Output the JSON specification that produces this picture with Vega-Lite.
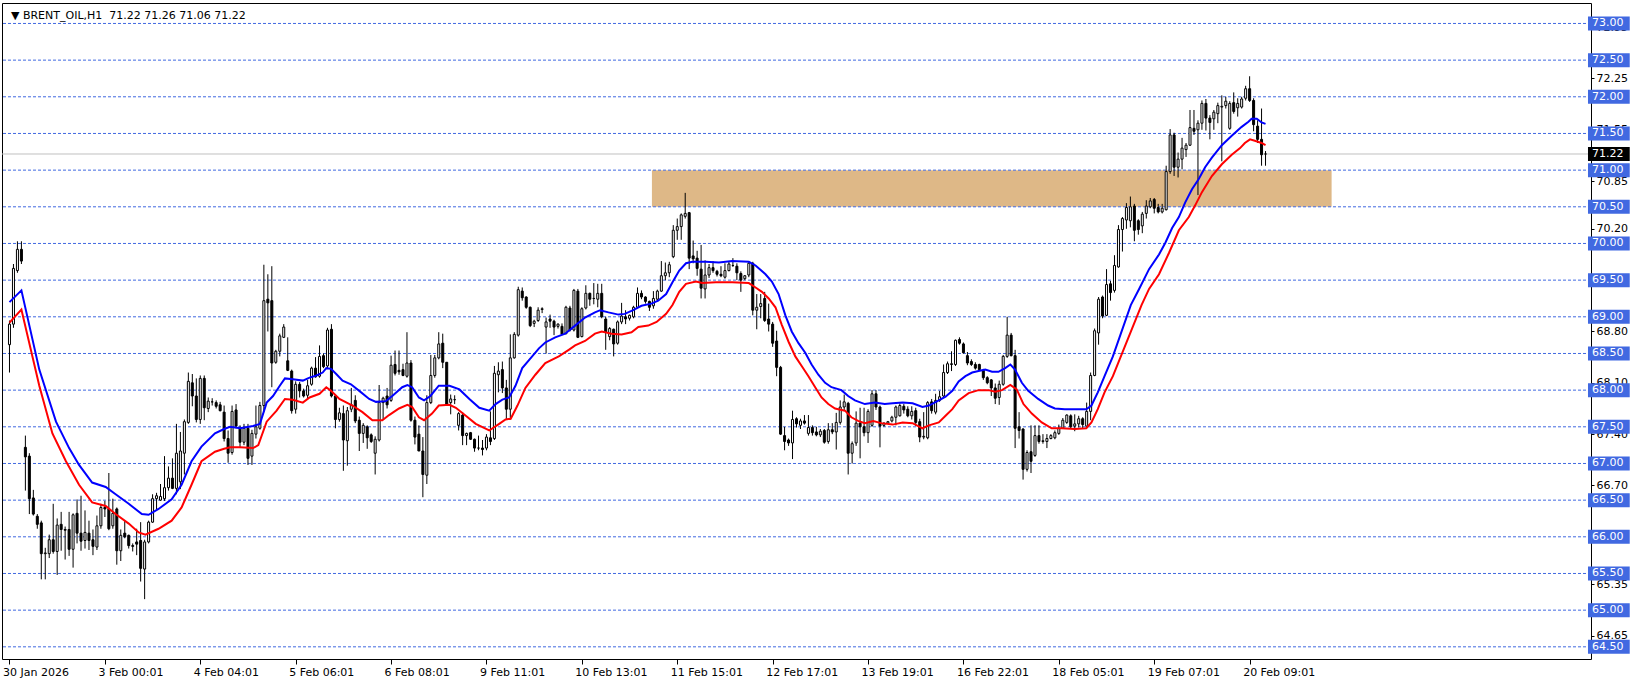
{
"$schema": "https://vega.github.io/schema/vega-lite/v6.json",
"width": 1589, "height": 656,
"autosize": {"type": "none"},
"padding": {"left": 2, "top": 3, "right": 50, "bottom": 24},
"background": "white",
"config": {"view": {"stroke": "black", "strokeWidth": 1}, "font": "DejaVu Sans",
  "axis": {"labelFont": "DejaVu Sans", "labelFontSize": 11, "labelColor": "black", "tickColor": "black", "grid": false, "domain": false}},
"datasets": {
"k": [
{"i":0,"o":68.62,"h":68.95,"l":68.24,"c":68.9},{"i":1,"o":68.9,"h":69.72,"l":68.85,"c":69.66},{"i":2,"o":69.63,"h":70.03,"l":69.6,"c":69.92},{"i":3,"o":69.92,"h":70.03,"l":69.72,"c":69.76},
{"i":4,"o":67.22,"h":67.38,"l":66.63,"c":67.09},{"i":5,"o":67.1,"h":67.14,"l":66.31,"c":66.52},{"i":6,"o":66.53,"h":66.64,"l":66.29,"c":66.31},{"i":7,"o":66.28,"h":66.31,"l":66.11,"c":66.17},
{"i":8,"o":66.19,"h":66.22,"l":65.42,"c":65.77},{"i":9,"o":65.77,"h":65.85,"l":65.42,"c":65.78},{"i":10,"o":65.77,"h":66.03,"l":65.71,"c":65.96},{"i":11,"o":65.96,"h":66.45,"l":65.77,"c":65.8},
{"i":12,"o":65.8,"h":66.25,"l":65.48,"c":66.16},{"i":13,"o":66.17,"h":66.34,"l":65.81,"c":66.1},{"i":14,"o":66.1,"h":66.14,"l":65.69,"c":66.09},{"i":15,"o":66.1,"h":66.34,"l":65.74,"c":65.83},
{"i":16,"o":65.83,"h":66.32,"l":65.58,"c":66.3},{"i":17,"o":66.32,"h":66.51,"l":65.91,"c":66.05},{"i":18,"o":66.05,"h":66.56,"l":65.81,"c":65.94},{"i":19,"o":65.95,"h":66.36,"l":65.84,"c":66.06},
{"i":20,"o":66.05,"h":66.22,"l":65.82,"c":65.95},{"i":21,"o":65.96,"h":66.1,"l":65.75,"c":65.87},{"i":22,"o":65.86,"h":66.29,"l":65.82,"c":66.15},{"i":23,"o":66.15,"h":66.45,"l":66.11,"c":66.4},
{"i":24,"o":66.4,"h":66.49,"l":66.27,"c":66.38},{"i":25,"o":66.38,"h":66.87,"l":66.09,"c":66.11},{"i":26,"o":66.15,"h":66.52,"l":66.11,"c":66.32},{"i":27,"o":66.38,"h":66.4,"l":65.62,"c":65.81},
{"i":28,"o":65.81,"h":66.1,"l":65.67,"c":66.02},{"i":29,"o":66.05,"h":66.22,"l":65.98,"c":66.0},{"i":30,"o":66.02,"h":66.03,"l":65.84,"c":65.88},{"i":31,"o":65.88,"h":65.91,"l":65.8,"c":65.87},
{"i":32,"o":65.93,"h":66.11,"l":65.75,"c":65.9},{"i":33,"o":65.95,"h":66.2,"l":65.39,"c":65.57},{"i":34,"o":65.56,"h":65.96,"l":65.15,"c":65.93},{"i":35,"o":65.93,"h":66.22,"l":65.91,"c":66.2},
{"i":36,"o":66.2,"h":66.58,"l":66.19,"c":66.52},{"i":37,"o":66.52,"h":66.6,"l":66.36,"c":66.56},{"i":38,"o":66.5,"h":66.72,"l":66.49,"c":66.55},{"i":39,"o":66.52,"h":67.1,"l":66.49,"c":66.67},
{"i":40,"o":66.67,"h":66.96,"l":66.63,"c":66.8},{"i":41,"o":66.8,"h":67.07,"l":66.65,"c":66.66},{"i":42,"o":66.66,"h":67.54,"l":66.58,"c":67.14},{"i":43,"o":66.75,"h":67.43,"l":66.65,"c":67.17},
{"i":44,"o":67.14,"h":67.6,"l":66.85,"c":67.57},{"i":45,"o":67.56,"h":68.24,"l":67.54,"c":68.12},{"i":46,"o":68.1,"h":68.22,"l":67.78,"c":67.92},{"i":47,"o":67.92,"h":68.16,"l":67.56,"c":67.6},
{"i":48,"o":67.6,"h":68.2,"l":67.54,"c":68.16},{"i":49,"o":68.16,"h":68.2,"l":67.59,"c":67.76},{"i":50,"o":67.75,"h":67.9,"l":67.7,"c":67.85},{"i":51,"o":67.84,"h":67.89,"l":67.79,"c":67.84},
{"i":52,"o":67.83,"h":67.86,"l":67.75,"c":67.78},{"i":53,"o":67.8,"h":67.84,"l":67.71,"c":67.72},{"i":54,"o":67.7,"h":67.79,"l":67.3,"c":67.34},{"i":55,"o":67.34,"h":67.45,"l":67.01,"c":67.14},
{"i":56,"o":67.15,"h":67.79,"l":67.12,"c":67.71},{"i":57,"o":67.73,"h":67.81,"l":67.48,"c":67.51},{"i":58,"o":67.48,"h":67.52,"l":67.21,"c":67.29},{"i":59,"o":67.29,"h":67.54,"l":67.25,"c":67.48},
{"i":60,"o":67.48,"h":67.54,"l":66.98,"c":67.07},{"i":61,"o":67.1,"h":67.46,"l":66.98,"c":67.41},{"i":62,"o":67.4,"h":67.79,"l":67.34,"c":67.5},{"i":63,"o":67.48,"h":67.84,"l":67.46,"c":67.79},
{"i":64,"o":67.79,"h":69.71,"l":67.7,"c":69.22},{"i":65,"o":69.24,"h":69.58,"l":68.8,"c":69.19},{"i":66,"o":69.22,"h":69.69,"l":68.04,"c":68.37},{"i":67,"o":68.38,"h":68.55,"l":68.36,"c":68.53},
{"i":68,"o":68.53,"h":68.77,"l":68.46,"c":68.74},{"i":69,"o":68.72,"h":68.9,"l":68.71,"c":68.86},{"i":70,"o":68.4,"h":68.72,"l":68.26,"c":68.27},{"i":71,"o":68.26,"h":68.28,"l":67.68,"c":67.72},
{"i":72,"o":67.74,"h":68.12,"l":67.68,"c":68.08},{"i":73,"o":68.08,"h":68.11,"l":67.9,"c":67.99},{"i":74,"o":67.99,"h":68.02,"l":67.9,"c":67.92},{"i":75,"o":67.93,"h":68.14,"l":67.89,"c":68.06},
{"i":76,"o":68.08,"h":68.32,"l":68.06,"c":68.3},{"i":77,"o":68.3,"h":68.45,"l":68.17,"c":68.18},{"i":78,"o":68.19,"h":68.61,"l":68.17,"c":68.46},{"i":79,"o":68.47,"h":68.5,"l":68.3,"c":68.32},
{"i":80,"o":68.33,"h":68.85,"l":68.3,"c":68.82},{"i":81,"o":68.83,"h":68.9,"l":67.9,"c":67.92},{"i":82,"o":67.92,"h":67.94,"l":67.48,"c":67.6},{"i":83,"o":67.6,"h":67.76,"l":67.57,"c":67.69},
{"i":84,"o":67.68,"h":67.79,"l":66.9,"c":67.32},{"i":85,"o":67.31,"h":67.77,"l":66.97,"c":67.72},{"i":86,"o":67.74,"h":68.03,"l":67.7,"c":67.8},{"i":87,"o":67.86,"h":67.93,"l":67.55,"c":67.58},
{"i":88,"o":67.59,"h":67.64,"l":67.17,"c":67.41},{"i":89,"o":67.41,"h":67.55,"l":67.28,"c":67.52},{"i":90,"o":67.5,"h":67.52,"l":67.2,"c":67.35},{"i":91,"o":67.39,"h":67.41,"l":67.28,"c":67.3},
{"i":92,"o":67.14,"h":67.37,"l":66.85,"c":67.33},{"i":93,"o":67.32,"h":68.07,"l":67.3,"c":67.83},{"i":94,"o":67.83,"h":67.91,"l":67.6,"c":67.89},{"i":95,"o":67.92,"h":68.03,"l":67.75,"c":67.8},
{"i":96,"o":67.86,"h":68.47,"l":67.84,"c":68.34},{"i":97,"o":68.35,"h":68.54,"l":68.2,"c":68.23},{"i":98,"o":68.27,"h":68.54,"l":68.21,"c":68.25},{"i":99,"o":68.28,"h":68.36,"l":68.19,"c":68.2},
{"i":100,"o":68.19,"h":68.79,"l":68.17,"c":68.37},{"i":101,"o":68.37,"h":68.41,"l":67.57,"c":67.59},{"i":102,"o":67.59,"h":67.64,"l":67.26,"c":67.36},{"i":103,"o":67.4,"h":67.52,"l":67.17,"c":67.17},
{"i":104,"o":67.17,"h":67.36,"l":66.54,"c":66.85},{"i":105,"o":66.84,"h":67.93,"l":66.72,"c":67.83},{"i":106,"o":67.83,"h":68.48,"l":67.81,"c":68.2},{"i":107,"o":68.2,"h":68.48,"l":68.17,"c":68.44},
{"i":108,"o":68.44,"h":68.79,"l":68.42,"c":68.63},{"i":109,"o":68.64,"h":68.77,"l":68.3,"c":68.38},{"i":110,"o":68.38,"h":68.38,"l":67.79,"c":67.81},{"i":111,"o":67.83,"h":67.94,"l":67.67,"c":67.88},
{"i":112,"o":67.87,"h":67.93,"l":67.81,"c":67.87},{"i":113,"o":67.52,"h":67.7,"l":67.45,"c":67.68},{"i":114,"o":67.66,"h":67.7,"l":67.25,"c":67.38},{"i":115,"o":67.38,"h":67.42,"l":67.25,"c":67.41},
{"i":116,"o":67.42,"h":67.43,"l":67.32,"c":67.33},{"i":117,"o":67.33,"h":67.34,"l":67.16,"c":67.21},{"i":118,"o":67.21,"h":67.38,"l":67.18,"c":67.21},{"i":119,"o":67.21,"h":67.32,"l":67.11,"c":67.19},
{"i":120,"o":67.21,"h":67.4,"l":67.18,"c":67.36},{"i":121,"o":67.35,"h":67.71,"l":67.25,"c":67.3},{"i":122,"o":67.34,"h":68.33,"l":67.32,"c":68.23},{"i":123,"o":68.21,"h":68.38,"l":67.97,"c":68.26},
{"i":124,"o":68.28,"h":68.39,"l":67.96,"c":68.03},{"i":125,"o":68.03,"h":68.14,"l":67.6,"c":67.74},{"i":126,"o":67.74,"h":68.76,"l":67.6,"c":68.44},{"i":127,"o":68.44,"h":68.79,"l":68.43,"c":68.76},
{"i":128,"o":68.75,"h":69.41,"l":68.73,"c":69.37},{"i":129,"o":69.35,"h":69.4,"l":69.22,"c":69.26},{"i":130,"o":69.27,"h":69.28,"l":69.11,"c":69.13},{"i":131,"o":69.13,"h":69.14,"l":68.86,"c":68.88},
{"i":132,"o":68.91,"h":68.96,"l":68.86,"c":68.94},{"i":133,"o":68.95,"h":69.13,"l":68.93,"c":69.09},{"i":134,"o":69.1,"h":69.13,"l":69.05,"c":69.11},{"i":135,"o":68.86,"h":68.99,"l":68.5,"c":68.93},
{"i":136,"o":68.97,"h":69.03,"l":68.85,"c":68.94},{"i":137,"o":68.94,"h":68.96,"l":68.75,"c":68.86},{"i":138,"o":68.87,"h":68.91,"l":68.84,"c":68.9},{"i":139,"o":68.87,"h":68.91,"l":68.75,"c":68.76},
{"i":140,"o":68.77,"h":69.15,"l":68.76,"c":69.13},{"i":141,"o":69.12,"h":69.15,"l":68.8,"c":68.82},{"i":142,"o":68.82,"h":69.38,"l":68.8,"c":69.36},{"i":143,"o":69.35,"h":69.38,"l":68.71,"c":68.72},
{"i":144,"o":68.73,"h":69.13,"l":68.72,"c":69.11},{"i":145,"o":69.12,"h":69.43,"l":69.1,"c":69.32},{"i":146,"o":69.32,"h":69.33,"l":69.15,"c":69.24},{"i":147,"o":69.25,"h":69.46,"l":69.17,"c":69.25},
{"i":148,"o":69.24,"h":69.45,"l":69.13,"c":69.32},{"i":149,"o":69.32,"h":69.45,"l":68.98,"c":69.0},{"i":150,"o":68.97,"h":69.0,"l":68.55,"c":68.79},{"i":151,"o":68.73,"h":68.86,"l":68.68,"c":68.84},
{"i":152,"o":68.83,"h":68.84,"l":68.46,"c":68.63},{"i":153,"o":68.64,"h":68.95,"l":68.62,"c":68.93},{"i":154,"o":68.93,"h":69.19,"l":68.9,"c":69.01},{"i":155,"o":69.0,"h":69.09,"l":68.9,"c":68.97},
{"i":156,"o":68.98,"h":69.03,"l":68.95,"c":69.02},{"i":157,"o":69.0,"h":69.15,"l":68.98,"c":69.13},{"i":158,"o":69.13,"h":69.4,"l":69.12,"c":69.32},{"i":159,"o":69.32,"h":69.36,"l":69.24,"c":69.27},
{"i":160,"o":69.27,"h":69.28,"l":69.18,"c":69.21},{"i":161,"o":69.21,"h":69.22,"l":69.08,"c":69.13},{"i":162,"o":69.15,"h":69.35,"l":69.11,"c":69.25},{"i":163,"o":69.24,"h":69.37,"l":69.22,"c":69.35},
{"i":164,"o":69.35,"h":69.76,"l":69.34,"c":69.56},{"i":165,"o":69.56,"h":69.74,"l":69.5,"c":69.6},{"i":166,"o":69.6,"h":69.75,"l":69.54,"c":69.71},{"i":167,"o":69.82,"h":70.25,"l":69.8,"c":70.18},
{"i":168,"o":70.18,"h":70.34,"l":70.05,"c":70.23},{"i":169,"o":70.23,"h":70.41,"l":70.05,"c":70.39},{"i":170,"o":70.37,"h":70.69,"l":70.34,"c":70.41},{"i":171,"o":70.42,"h":70.43,"l":69.65,"c":69.8},
{"i":172,"o":69.83,"h":70.04,"l":69.73,"c":69.79},{"i":173,"o":69.8,"h":69.9,"l":69.56,"c":69.66},{"i":174,"o":69.65,"h":69.98,"l":69.25,"c":69.39},{"i":175,"o":69.38,"h":69.77,"l":69.25,"c":69.57},
{"i":176,"o":69.57,"h":69.72,"l":69.53,"c":69.67},{"i":177,"o":69.67,"h":69.76,"l":69.6,"c":69.63},{"i":178,"o":69.62,"h":69.64,"l":69.55,"c":69.58},{"i":179,"o":69.58,"h":69.69,"l":69.54,"c":69.56},
{"i":180,"o":69.54,"h":69.73,"l":69.52,"c":69.63},{"i":181,"o":69.63,"h":69.75,"l":69.62,"c":69.72},{"i":182,"o":69.7,"h":69.8,"l":69.68,"c":69.7},{"i":183,"o":69.69,"h":69.73,"l":69.5,"c":69.6},
{"i":184,"o":69.59,"h":69.62,"l":69.34,"c":69.5},{"i":185,"o":69.52,"h":69.57,"l":69.5,"c":69.56},{"i":186,"o":69.57,"h":69.76,"l":69.54,"c":69.73},{"i":187,"o":69.73,"h":69.75,"l":69.02,"c":69.09},
{"i":188,"o":69.09,"h":69.31,"l":68.83,"c":69.13},{"i":189,"o":69.14,"h":69.31,"l":68.98,"c":69.18},{"i":190,"o":69.25,"h":69.34,"l":68.93,"c":68.95},{"i":191,"o":68.97,"h":69.18,"l":68.8,"c":68.9},
{"i":192,"o":68.9,"h":68.93,"l":68.59,"c":68.64},{"i":193,"o":68.67,"h":68.81,"l":68.19,"c":68.31},{"i":194,"o":68.31,"h":68.33,"l":67.39,"c":67.4},{"i":195,"o":67.38,"h":67.5,"l":67.18,"c":67.3},
{"i":196,"o":67.32,"h":67.34,"l":67.24,"c":67.28},{"i":197,"o":67.28,"h":67.72,"l":67.06,"c":67.6},{"i":198,"o":67.61,"h":67.63,"l":67.49,"c":67.54},{"i":199,"o":67.52,"h":67.61,"l":67.47,"c":67.58},
{"i":200,"o":67.58,"h":67.66,"l":67.53,"c":67.55},{"i":201,"o":67.41,"h":67.66,"l":67.38,"c":67.49},{"i":202,"o":67.49,"h":67.52,"l":67.38,"c":67.42},{"i":203,"o":67.43,"h":67.5,"l":67.37,"c":67.39},
{"i":204,"o":67.39,"h":67.47,"l":67.36,"c":67.44},{"i":205,"o":67.45,"h":67.47,"l":67.27,"c":67.29},{"i":206,"o":67.3,"h":67.55,"l":67.27,"c":67.46},{"i":207,"o":67.46,"h":67.55,"l":67.4,"c":67.43},
{"i":208,"o":67.43,"h":67.69,"l":67.19,"c":67.56},{"i":209,"o":67.56,"h":67.86,"l":67.53,"c":67.77},{"i":210,"o":67.77,"h":67.94,"l":67.73,"c":67.84},{"i":211,"o":67.82,"h":67.84,"l":66.85,"c":67.14},
{"i":212,"o":67.14,"h":67.3,"l":67.0,"c":67.27},{"i":213,"o":67.28,"h":67.71,"l":67.24,"c":67.55},{"i":214,"o":67.55,"h":67.76,"l":67.07,"c":67.5},{"i":215,"o":67.5,"h":67.76,"l":67.37,"c":67.42},
{"i":216,"o":67.42,"h":67.74,"l":67.28,"c":67.71},{"i":217,"o":67.52,"h":68.0,"l":67.5,"c":67.95},{"i":218,"o":67.95,"h":68.0,"l":67.73,"c":67.77},{"i":219,"o":67.77,"h":67.79,"l":67.22,"c":67.51},
{"i":220,"o":67.52,"h":67.56,"l":67.5,"c":67.55},{"i":221,"o":67.55,"h":67.58,"l":67.54,"c":67.57},{"i":222,"o":67.58,"h":67.65,"l":67.56,"c":67.63},{"i":223,"o":67.63,"h":67.79,"l":67.52,"c":67.77},
{"i":224,"o":67.65,"h":67.82,"l":67.64,"c":67.79},{"i":225,"o":67.78,"h":67.81,"l":67.68,"c":67.73},{"i":226,"o":67.74,"h":67.78,"l":67.63,"c":67.65},{"i":227,"o":67.65,"h":67.78,"l":67.6,"c":67.71},
{"i":228,"o":67.72,"h":67.76,"l":67.51,"c":67.56},{"i":229,"o":67.57,"h":67.61,"l":67.29,"c":67.36},{"i":230,"o":67.36,"h":67.7,"l":67.33,"c":67.37},{"i":231,"o":67.35,"h":67.85,"l":67.33,"c":67.83},
{"i":232,"o":67.84,"h":67.88,"l":67.68,"c":67.72},{"i":233,"o":67.7,"h":67.95,"l":67.67,"c":67.86},{"i":234,"o":67.86,"h":67.99,"l":67.84,"c":67.91},{"i":235,"o":67.92,"h":68.35,"l":67.9,"c":68.24},
{"i":236,"o":68.24,"h":68.39,"l":68.22,"c":68.36},{"i":237,"o":68.35,"h":68.53,"l":68.26,"c":68.36},{"i":238,"o":68.35,"h":68.69,"l":68.33,"c":68.68},{"i":239,"o":68.69,"h":68.72,"l":68.62,"c":68.64},
{"i":240,"o":68.63,"h":68.65,"l":68.5,"c":68.51},{"i":241,"o":68.47,"h":68.52,"l":68.34,"c":68.37},{"i":242,"o":68.39,"h":68.42,"l":68.33,"c":68.35},{"i":243,"o":68.35,"h":68.38,"l":68.28,"c":68.3},
{"i":244,"o":68.35,"h":68.36,"l":68.26,"c":68.28},{"i":245,"o":68.27,"h":68.29,"l":68.14,"c":68.17},{"i":246,"o":68.17,"h":68.19,"l":68.08,"c":68.1},{"i":247,"o":68.14,"h":68.15,"l":67.92,"c":68.03},
{"i":248,"o":68.03,"h":68.09,"l":67.81,"c":67.89},{"i":249,"o":67.9,"h":68.13,"l":67.8,"c":68.08},{"i":250,"o":68.08,"h":68.48,"l":68.06,"c":68.46},{"i":251,"o":68.46,"h":69.0,"l":68.44,"c":68.75},
{"i":252,"o":68.75,"h":68.78,"l":68.46,"c":68.47},{"i":253,"o":68.47,"h":68.55,"l":67.21,"c":67.48},{"i":254,"o":67.5,"h":67.7,"l":67.34,"c":67.45},{"i":255,"o":67.47,"h":67.48,"l":66.78,"c":66.92},
{"i":256,"o":66.92,"h":67.18,"l":66.89,"c":67.15},{"i":257,"o":67.16,"h":67.52,"l":66.87,"c":67.03},{"i":258,"o":67.11,"h":67.52,"l":67.09,"c":67.38},{"i":259,"o":67.38,"h":67.52,"l":67.27,"c":67.3},
{"i":260,"o":67.3,"h":67.4,"l":67.27,"c":67.31},{"i":261,"o":67.3,"h":67.4,"l":67.21,"c":67.34},{"i":262,"o":67.34,"h":67.4,"l":67.33,"c":67.38},{"i":263,"o":67.35,"h":67.45,"l":67.33,"c":67.42},
{"i":264,"o":67.41,"h":67.53,"l":67.39,"c":67.48},{"i":265,"o":67.48,"h":67.62,"l":67.47,"c":67.59},{"i":266,"o":67.56,"h":67.67,"l":67.54,"c":67.66},{"i":267,"o":67.65,"h":67.67,"l":67.48,"c":67.5},
{"i":268,"o":67.51,"h":67.67,"l":67.44,"c":67.54},{"i":269,"o":67.54,"h":67.65,"l":67.49,"c":67.61},{"i":270,"o":67.61,"h":67.63,"l":67.48,"c":67.53},{"i":271,"o":67.51,"h":67.83,"l":67.48,"c":67.71},
{"i":272,"o":67.71,"h":68.24,"l":67.59,"c":68.2},{"i":273,"o":68.2,"h":68.84,"l":68.19,"c":68.81},{"i":274,"o":68.78,"h":69.27,"l":68.62,"c":69.24},{"i":275,"o":69.27,"h":69.29,"l":68.98,"c":69.01},
{"i":276,"o":69.02,"h":69.65,"l":69.01,"c":69.44},{"i":277,"o":69.45,"h":69.49,"l":69.22,"c":69.33},{"i":278,"o":69.36,"h":69.84,"l":69.33,"c":69.7},{"i":279,"o":69.68,"h":70.25,"l":69.67,"c":70.19},
{"i":280,"o":70.19,"h":70.36,"l":69.89,"c":70.34},{"i":281,"o":70.32,"h":70.55,"l":70.2,"c":70.49},{"i":282,"o":70.31,"h":70.64,"l":70.22,"c":70.5},{"i":283,"o":70.51,"h":70.54,"l":70.03,"c":70.18},
{"i":284,"o":70.31,"h":70.33,"l":70.12,"c":70.19},{"i":285,"o":70.24,"h":70.43,"l":70.14,"c":70.4},{"i":286,"o":70.41,"h":70.59,"l":70.34,"c":70.51},{"i":287,"o":70.5,"h":70.62,"l":70.48,"c":70.58},
{"i":288,"o":70.6,"h":70.62,"l":70.41,"c":70.48},{"i":289,"o":70.49,"h":70.54,"l":70.41,"c":70.43},{"i":290,"o":70.43,"h":70.54,"l":70.41,"c":70.48},{"i":291,"o":70.46,"h":71.06,"l":70.45,"c":70.98},
{"i":292,"o":70.98,"h":71.56,"l":70.95,"c":71.48},{"i":293,"o":71.48,"h":71.51,"l":70.92,"c":71.04},{"i":294,"o":71.04,"h":71.24,"l":70.9,"c":71.15},{"i":295,"o":71.15,"h":71.44,"l":71.01,"c":71.3},
{"i":296,"o":71.28,"h":71.37,"l":71.18,"c":71.34},{"i":297,"o":71.34,"h":71.82,"l":71.33,"c":71.58},{"i":298,"o":71.57,"h":71.82,"l":71.48,"c":71.53},{"i":299,"o":71.55,"h":71.68,"l":70.66,"c":71.64},
{"i":300,"o":71.64,"h":71.95,"l":71.55,"c":71.91},{"i":301,"o":71.91,"h":71.97,"l":71.54,"c":71.71},{"i":302,"o":71.71,"h":71.75,"l":71.42,"c":71.65},{"i":303,"o":71.7,"h":71.82,"l":71.55,"c":71.79},
{"i":304,"o":71.77,"h":71.92,"l":71.64,"c":71.88},{"i":305,"o":71.86,"h":72.02,"l":71.12,"c":71.87},{"i":306,"o":71.88,"h":72.0,"l":71.84,"c":71.94},{"i":307,"o":71.57,"h":71.94,"l":71.55,"c":71.91},
{"i":308,"o":71.92,"h":72.06,"l":71.77,"c":71.8},{"i":309,"o":71.85,"h":71.98,"l":71.73,"c":71.91},{"i":310,"o":71.86,"h":72.0,"l":71.84,"c":71.97},{"i":311,"o":71.98,"h":72.15,"l":71.95,"c":72.11},
{"i":312,"o":72.11,"h":72.28,"l":71.93,"c":71.95},{"i":313,"o":71.95,"h":71.98,"l":71.53,"c":71.62},{"i":314,"o":71.6,"h":71.68,"l":71.37,"c":71.42},{"i":315,"o":71.42,"h":71.84,"l":71.06,"c":71.21},
{"i":316,"o":71.22,"h":71.26,"l":71.06,"c":71.22}
],
"blue": [
{"i":0,"v":69.2},{"i":3,"v":69.36},{"i":7.5,"v":68.28},{"i":11.7,"v":67.57},{"i":15,"v":67.21},{"i":17.5,"v":66.98},{"i":20.8,"v":66.74},{"i":24.2,"v":66.68},{"i":26.7,"v":66.58},{"i":30,"v":66.45},{"i":33.3,"v":66.31},{"i":35,"v":66.3},{"i":37.5,"v":66.38},{"i":40.8,"v":66.51},{"i":43.3,"v":66.71},{"i":45.8,"v":67.03},{"i":48.3,"v":67.23},{"i":51.7,"v":67.41},{"i":54,"v":67.47},{"i":55.5,"v":67.5},{"i":58,"v":67.48},{"i":61.3,"v":67.51},{"i":63,"v":67.54},{"i":64.7,"v":67.83},{"i":66.3,"v":67.92},{"i":68,"v":68.06},{"i":69.3,"v":68.16},{"i":71.3,"v":68.15},{"i":73.8,"v":68.13},{"i":75.5,"v":68.17},{"i":77.2,"v":68.2},{"i":78.8,"v":68.24},{"i":79.7,"v":68.3},{"i":80.9,"v":68.29},{"i":82.2,"v":68.22},{"i":83.8,"v":68.13},{"i":85.9,"v":68.08},{"i":88,"v":67.99},{"i":90.5,"v":67.88},{"i":92.2,"v":67.84},{"i":94.7,"v":67.85},{"i":96.3,"v":67.92},{"i":98.8,"v":68.04},{"i":100.1,"v":68.07},{"i":101.3,"v":68.04},{"i":103,"v":67.9},{"i":104.3,"v":67.86},{"i":105.9,"v":67.92},{"i":108,"v":68.06},{"i":110.7,"v":68.06},{"i":113.2,"v":68.01},{"i":115.7,"v":67.88},{"i":118.2,"v":67.76},{"i":120.7,"v":67.72},{"i":122.3,"v":67.81},{"i":124,"v":67.87},{"i":125.7,"v":67.9},{"i":127.3,"v":68.06},{"i":129,"v":68.3},{"i":130.7,"v":68.41},{"i":133.2,"v":68.57},{"i":134.8,"v":68.65},{"i":137.3,"v":68.72},{"i":139.8,"v":68.77},{"i":142.3,"v":68.88},{"i":144.8,"v":68.99},{"i":147.3,"v":69.06},{"i":148.6,"v":69.09},{"i":150.7,"v":69.06},{"i":153.2,"v":69.03},{"i":154.8,"v":69.04},{"i":156.9,"v":69.09},{"i":159,"v":69.15},{"i":161.5,"v":69.18},{"i":163.2,"v":69.22},{"i":165.2,"v":69.31},{"i":166.8,"v":69.47},{"i":168.5,"v":69.63},{"i":170.2,"v":69.73},{"i":171.8,"v":69.75},{"i":175.2,"v":69.75},{"i":178.5,"v":69.74},{"i":181.8,"v":69.76},{"i":186,"v":69.75},{"i":187.7,"v":69.7},{"i":190.2,"v":69.58},{"i":191.8,"v":69.48},{"i":193.5,"v":69.31},{"i":195.2,"v":69.02},{"i":196.8,"v":68.8},{"i":198.5,"v":68.64},{"i":200.2,"v":68.51},{"i":201.8,"v":68.35},{"i":203.5,"v":68.21},{"i":205.2,"v":68.1},{"i":206.8,"v":68.04},{"i":209.3,"v":68.0},{"i":211,"v":67.92},{"i":212.7,"v":67.86},{"i":215.2,"v":67.81},{"i":217.7,"v":67.83},{"i":220.2,"v":67.81},{"i":222.2,"v":67.82},{"i":224.7,"v":67.83},{"i":227.2,"v":67.82},{"i":229.7,"v":67.77},{"i":231.3,"v":67.79},{"i":233.8,"v":67.86},{"i":235.5,"v":67.91},{"i":237.2,"v":67.99},{"i":238.8,"v":68.12},{"i":240.5,"v":68.19},{"i":242.2,"v":68.24},{"i":243.8,"v":68.26},{"i":245.5,"v":68.28},{"i":247.2,"v":68.25},{"i":248.8,"v":68.25},{"i":250.5,"v":68.3},{"i":251.8,"v":68.35},{"i":253,"v":68.28},{"i":254.7,"v":68.1},{"i":256.3,"v":67.99},{"i":258.8,"v":67.88},{"i":261.3,"v":67.79},{"i":263,"v":67.75},{"i":265.5,"v":67.74},{"i":268.8,"v":67.74},{"i":270.9,"v":67.74},{"i":272.2,"v":67.79},{"i":273.8,"v":67.97},{"i":275.5,"v":68.19},{"i":277.6,"v":68.46},{"i":282.1,"v":69.16},{"i":284.2,"v":69.38},{"i":286.7,"v":69.65},{"i":289.2,"v":69.85},{"i":290.8,"v":70.01},{"i":292.5,"v":70.21},{"i":294.2,"v":70.36},{"i":295.8,"v":70.56},{"i":297.5,"v":70.74},{"i":299.2,"v":70.88},{"i":300.8,"v":71.04},{"i":302.5,"v":71.17},{"i":305,"v":71.34},{"i":307.5,"v":71.47},{"i":310,"v":71.59},{"i":311.7,"v":71.66},{"i":312.5,"v":71.7},{"i":313.8,"v":71.7},{"i":315,"v":71.65},{"i":316,"v":71.63}
],
"red": [
{"i":0,"v":68.92},{"i":3,"v":69.1},{"i":7.5,"v":68.06},{"i":10.8,"v":67.41},{"i":14.2,"v":67.03},{"i":17.5,"v":66.71},{"i":20.8,"v":66.47},{"i":24.2,"v":66.42},{"i":26.7,"v":66.31},{"i":30,"v":66.18},{"i":32.5,"v":66.06},{"i":34.2,"v":66.03},{"i":37.5,"v":66.11},{"i":40.8,"v":66.22},{"i":43.3,"v":66.4},{"i":45.8,"v":66.71},{"i":48.3,"v":67.03},{"i":51.7,"v":67.16},{"i":54,"v":67.2},{"i":55.5,"v":67.22},{"i":58,"v":67.22},{"i":61.3,"v":67.21},{"i":62.6,"v":67.25},{"i":64.7,"v":67.57},{"i":67.2,"v":67.72},{"i":69.3,"v":67.88},{"i":71.3,"v":67.87},{"i":73.8,"v":67.83},{"i":75.5,"v":67.9},{"i":78,"v":67.95},{"i":79.7,"v":68.04},{"i":80.9,"v":67.99},{"i":83,"v":67.88},{"i":86.3,"v":67.79},{"i":88.8,"v":67.7},{"i":91.3,"v":67.59},{"i":93.8,"v":67.59},{"i":95.5,"v":67.66},{"i":98,"v":67.75},{"i":100.1,"v":67.8},{"i":101.3,"v":67.77},{"i":103,"v":67.63},{"i":104.3,"v":67.59},{"i":106.3,"v":67.68},{"i":108,"v":67.79},{"i":110.7,"v":67.8},{"i":112.3,"v":67.76},{"i":114.8,"v":67.65},{"i":117.3,"v":67.54},{"i":120.7,"v":67.45},{"i":123.2,"v":67.54},{"i":124.8,"v":67.6},{"i":126.1,"v":67.61},{"i":127.8,"v":67.79},{"i":129.8,"v":68.03},{"i":132.3,"v":68.21},{"i":134.8,"v":68.37},{"i":138.2,"v":68.46},{"i":140.7,"v":68.55},{"i":142.3,"v":68.61},{"i":144.8,"v":68.67},{"i":147.3,"v":68.77},{"i":149,"v":68.8},{"i":151.5,"v":68.77},{"i":154,"v":68.76},{"i":156.5,"v":68.79},{"i":158.2,"v":68.86},{"i":160.7,"v":68.88},{"i":162.8,"v":68.93},{"i":165.2,"v":69.04},{"i":166.8,"v":69.16},{"i":168.5,"v":69.34},{"i":170.2,"v":69.45},{"i":172.7,"v":69.48},{"i":174.3,"v":69.46},{"i":177.7,"v":69.47},{"i":181.8,"v":69.47},{"i":186,"v":69.46},{"i":187.7,"v":69.4},{"i":189.3,"v":69.34},{"i":191,"v":69.25},{"i":192.7,"v":69.13},{"i":194.3,"v":68.89},{"i":196,"v":68.66},{"i":197.7,"v":68.46},{"i":199.3,"v":68.33},{"i":201,"v":68.19},{"i":202.7,"v":68.04},{"i":204.3,"v":67.9},{"i":206,"v":67.81},{"i":207.7,"v":67.75},{"i":210.2,"v":67.72},{"i":211.8,"v":67.63},{"i":213.5,"v":67.58},{"i":215.2,"v":67.55},{"i":217.3,"v":67.58},{"i":219.3,"v":67.55},{"i":222.2,"v":67.53},{"i":224.7,"v":67.56},{"i":227.2,"v":67.55},{"i":229.7,"v":67.48},{"i":231.3,"v":67.52},{"i":233.8,"v":67.56},{"i":235.5,"v":67.65},{"i":237.2,"v":67.74},{"i":238.8,"v":67.86},{"i":241.3,"v":67.96},{"i":243.8,"v":68.0},{"i":246.3,"v":68.0},{"i":248,"v":67.98},{"i":249.7,"v":68.0},{"i":251.8,"v":68.07},{"i":253.4,"v":68.01},{"i":255.1,"v":67.81},{"i":257.2,"v":67.68},{"i":259.7,"v":67.56},{"i":262.2,"v":67.48},{"i":264.7,"v":67.48},{"i":268,"v":67.47},{"i":270.9,"v":67.48},{"i":272.2,"v":67.56},{"i":273.8,"v":67.74},{"i":275.5,"v":67.97},{"i":277.6,"v":68.19},{"i":284.8,"v":69.16},{"i":286.7,"v":69.38},{"i":289.2,"v":69.58},{"i":291.7,"v":69.87},{"i":294.2,"v":70.18},{"i":296.7,"v":70.36},{"i":298.3,"v":70.52},{"i":300,"v":70.7},{"i":302.5,"v":70.92},{"i":305,"v":71.08},{"i":307.5,"v":71.21},{"i":309.6,"v":71.3},{"i":310.8,"v":71.37},{"i":312.1,"v":71.42},{"i":313.3,"v":71.4},{"i":315,"v":71.37},{"i":316,"v":71.34}
],
"levels": [{"p":64.5},{"p":65.0},{"p":65.5},{"p":66.0},{"p":66.5},{"p":67.0},{"p":67.5},{"p":68.0},{"p":68.5},{"p":69.0},{"p":69.5},{"p":70.0},{"p":70.5},{"p":71.0},{"p":71.5},{"p":72.0},{"p":72.5},{"p":73.0}]
},
"encoding": {
  "x": {"type": "quantitative", "scale": {"domain": [-0.625, 396.625], "nice": false, "zero": false},
        "axis": {"orient": "bottom", "title": null, "values": [0,24,48,72,96,120,144,168,192,216,240,264,288,312], "tickSize": 5, "labelAlign": "left", "labelPadding": 2, "labelOffset": -7, "labelFlush": false, "labelOverlap": false, "labelBound": false,
          "labelExpr": "['30 Jan 2026','3 Feb 00:01','4 Feb 04:01','5 Feb 06:01','6 Feb 08:01','9 Feb 11:01','10 Feb 13:01','11 Feb 15:01','12 Feb 17:01','13 Feb 19:01','16 Feb 22:01','18 Feb 05:01','19 Feb 07:01','20 Feb 09:01'][round(datum.value/24)]"}},
  "y": {"type": "quantitative", "scale": {"domain": [64.402, 73.2108], "nice": false, "zero": false},
        "axis": {"orient": "right", "title": null, "values": [72.95,72.25,71.55,70.85,70.2,68.8,68.1,67.4,66.7,65.35,64.65], "format": ".2f", "tickSize": 3, "labelPadding": 2, "labelOverlap": false, "labelFlush": false, "labelBound": false}}
},
"layer": [
{"data": {"values": [{"s": 161.625, "e": 332.625, "lo": 70.5, "hi": 71.0}]},
 "mark": {"type": "rect", "fill": "#DEB887"},
 "encoding": {"x": {"field": "s"}, "x2": {"field": "e"}, "y": {"field": "lo"}, "y2": {"field": "hi"}}},
{"data": {"values": [{"p": 71.22}]},
 "mark": {"type": "rule", "color": "#C0C0C0", "strokeWidth": 1},
 "encoding": {"y": {"field": "p"}}},
{"data": {"name": "levels"},
 "mark": {"type": "rule", "color": "#4169E1", "strokeWidth": 1, "strokeDash": [3, 2]},
 "encoding": {"y": {"field": "p"}}},
{"data": {"name": "k"},
 "mark": {"type": "rule", "color": "black", "strokeWidth": 1},
 "encoding": {"x": {"field": "i"}, "y": {"field": "l"}, "y2": {"field": "h"}}},
{"data": {"name": "k"},
 "mark": {"type": "bar", "width": 2, "stroke": "black", "strokeWidth": 1},
 "encoding": {"x": {"field": "i"}, "y": {"field": "o"}, "y2": {"field": "c"},
  "fill": {"condition": {"test": "datum.c >= datum.o", "value": "white"}, "value": "black"}}},
{"data": {"name": "blue"},
 "mark": {"type": "line", "color": "#0000FF", "strokeWidth": 2},
 "encoding": {"x": {"field": "i"}, "y": {"field": "v"}}},
{"data": {"name": "red"},
 "mark": {"type": "line", "color": "#FF0000", "strokeWidth": 2},
 "encoding": {"x": {"field": "i"}, "y": {"field": "v"}}},
{"data": {"name": "levels"},
 "mark": {"type": "bar", "height": 14, "fill": "#4169E1", "orient": "horizontal"},
 "encoding": {"x": {"datum": 397.125}, "x2": {"datum": 407.625}, "y": {"field": "p"}}},
{"data": {"name": "levels"},
 "mark": {"type": "text", "align": "left", "baseline": "middle", "color": "white", "fontSize": 11, "font": "DejaVu Sans"},
 "encoding": {"x": {"datum": 398.125}, "y": {"field": "p"}, "text": {"field": "p", "type": "quantitative", "format": ".2f"}}},
{"data": {"values": [{"p": 71.22}]},
 "mark": {"type": "bar", "height": 14, "fill": "black", "orient": "horizontal"},
 "encoding": {"x": {"datum": 397.125}, "x2": {"datum": 407.625}, "y": {"field": "p"}}},
{"data": {"values": [{"p": 71.22}]},
 "mark": {"type": "text", "align": "left", "baseline": "middle", "color": "white", "fontSize": 11, "font": "DejaVu Sans"},
 "encoding": {"x": {"datum": 398.125}, "y": {"field": "p"}, "text": {"field": "p", "type": "quantitative", "format": ".2f"}}},
{"data": {"values": [{"t": "▼ BRENT_OIL,H1\u00a0 71.22 71.26 71.06 71.22"}]},
 "mark": {"type": "text", "align": "left", "baseline": "middle", "color": "black", "fontSize": 11, "font": "DejaVu Sans"},
 "encoding": {"x": {"datum": 0.375}, "y": {"datum": 73.1}, "text": {"field": "t"}}}
]
}
